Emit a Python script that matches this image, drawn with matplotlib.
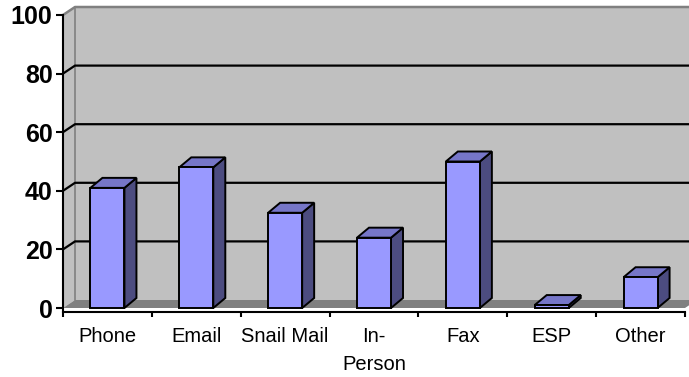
import matplotlib
matplotlib.use("Agg")
import matplotlib.pyplot as plt
from matplotlib.patches import Polygon, Rectangle

plt.rcParams['font.family'] = ['Liberation Sans', 'DejaVu Sans']

categories = ["Phone", "Email", "Snail Mail", "In-\nPerson", "Fax", "ESP", "Other"]
values = [41, 48, 32.5, 24, 50, 1, 10.5]
y_ticks = [0, 20, 40, 60, 80, 100]
y_tick_labels = ["0", "20", "40", "60", "80", "100"]

FRONT = "#9999FF"
TOP = "#7676C8"
SIDE = "#4C4C80"
WALL = "#C0C0C0"
FLOOR = "#808080"
EDGE = "#808080"

W, H = 689, 377
fig = plt.figure(figsize=(W / 100, H / 100), dpi=100)
# axes box in pixels: x 63..685, y(top-down) 15..308
ax = fig.add_axes([63 / W, (H - 308) / H, 622 / W, 293 / H])
n = len(categories)
xlo, xhi = -0.5, n - 0.5
ylo, yhi = 0, 100
ax.set_xlim(xlo, xhi)
ax.set_ylim(ylo, yhi)
ax.patch.set_visible(False)

# pixel -> data conversion
ux = (xhi - xlo) / 622.0
uy = (yhi - ylo) / 293.0
wall_dx, wall_dy = 12 * ux, 8 * uy
bar_dx, bar_dy = 12 * ux, 10 * uy

# back wall
ax.add_patch(Polygon([(xlo + wall_dx, ylo + wall_dy), (xhi + wall_dx, ylo + wall_dy),
                      (xhi + wall_dx, yhi + wall_dy), (xlo + wall_dx, yhi + wall_dy)],
                     closed=True, facecolor=WALL, edgecolor='none', zorder=1, clip_on=False))
# left wall
ax.add_patch(Polygon([(xlo, ylo), (xlo + wall_dx, ylo + wall_dy),
                      (xlo + wall_dx, yhi + wall_dy), (xlo, yhi)],
                     closed=True, facecolor=WALL, edgecolor='none', zorder=1, clip_on=False))
# wall edges
ax.plot([xlo, xlo + wall_dx, xhi + wall_dx], [yhi, yhi + wall_dy, yhi + wall_dy],
        color=EDGE, lw=1.8, zorder=2, clip_on=False, solid_capstyle='butt')
ax.plot([xlo + wall_dx, xlo + wall_dx], [ylo + wall_dy, yhi + wall_dy],
        color=EDGE, lw=1.2, zorder=2, clip_on=False)

# gridlines
for v in y_ticks[1:-1]:
    ax.plot([xlo, xlo + wall_dx, xhi + wall_dx], [v, v + wall_dy, v + wall_dy],
            color='black', lw=1.6, zorder=3, clip_on=False)

# floor
ax.add_patch(Polygon([(xlo, ylo), (xhi, ylo), (xhi + wall_dx, ylo + wall_dy),
                      (xlo + wall_dx, ylo + wall_dy)],
                     closed=True, facecolor=FLOOR, edgecolor='none', zorder=4, clip_on=False))

# bars
bw = 0.383
for i, v in enumerate(values):
    x0, x1 = i - bw / 2, i + bw / 2
    z = 5 + i
    ax.add_patch(Polygon([(x1, 0), (x1 + bar_dx, bar_dy), (x1 + bar_dx, v + bar_dy), (x1, v)],
                         closed=True, facecolor=SIDE, edgecolor='black', lw=1.4,
                         joinstyle='miter', zorder=z, clip_on=False))
    ax.add_patch(Polygon([(x0, v), (x1, v), (x1 + bar_dx, v + bar_dy), (x0 + bar_dx, v + bar_dy)],
                         closed=True, facecolor=TOP, edgecolor='black', lw=1.4,
                         joinstyle='miter', zorder=z, clip_on=False))
    ax.add_patch(Rectangle((x0, 0), bw, v, facecolor=FRONT, edgecolor='black', lw=1.4,
                           joinstyle='miter', zorder=z + 0.5, clip_on=False))

# spines
for s in ['top', 'right']:
    ax.spines[s].set_visible(False)
ax.spines['bottom'].set_position(('outward', 3))
ax.spines['bottom'].set_linewidth(1.5)
ax.spines['left'].set_linewidth(1.5)
ax.spines['left'].set_bounds(-1, 100)
ax.spines['left'].set_zorder(20)
ax.spines['bottom'].set_zorder(20)

# y ticks
ax.set_yticks(y_ticks)
ax.set_yticklabels(y_tick_labels, fontsize=18, fontweight='bold')
ax.tick_params(axis='y', direction='out', length=5, width=1.5, pad=2.5)

# x ticks: boundaries as major marks, labels at centers
ax.set_xticks([b - 0.5 for b in range(n + 1)])
ax.set_xticklabels([])
ax.tick_params(axis='x', which='major', direction='out', length=3.6, width=1.5)
ax.set_xticks(list(range(n)), minor=True)
ax.set_xticklabels(categories, minor=True, fontsize=14.5)
ax.tick_params(axis='x', which='minor', length=0, pad=11)
for lbl in ax.get_xticklabels(minor=True):
    lbl.set_linespacing(1.55)
    lbl.set_verticalalignment('top')

fig.savefig("out.png", dpi=100)
